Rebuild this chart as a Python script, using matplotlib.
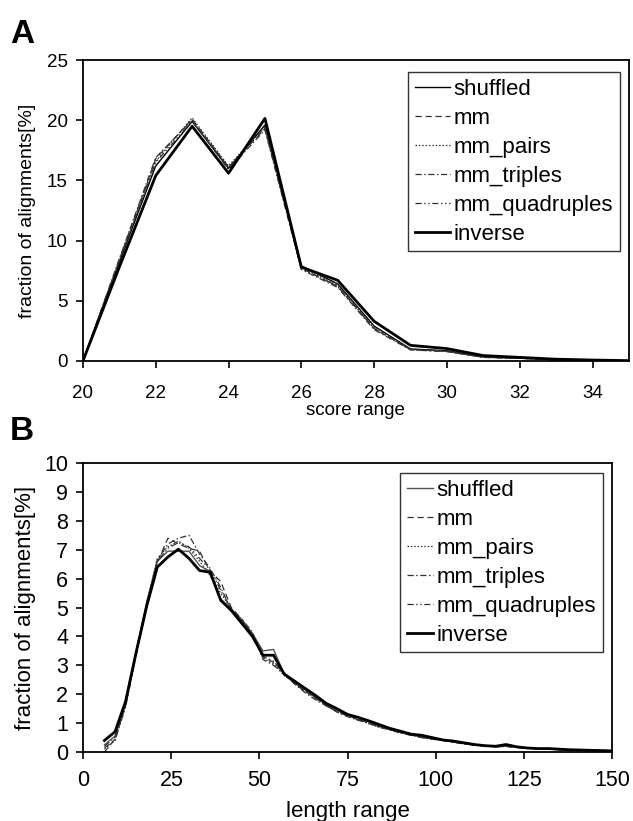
import numpy as np
import matplotlib
matplotlib.use('Agg')
import matplotlib.pyplot as plt

plt.rcParams['font.family'] = ['Liberation Sans', 'DejaVu Sans']

series_names = ['shuffled', 'mm', 'mm_pairs', 'mm_triples', 'mm_quadruples', 'inverse']

# Panel A: score range
score_x = [20, 21, 22, 23, 24, 25, 26, 27, 28, 29, 30, 31, 32, 33, 34, 35]
score_shuffled = [0, 8.2, 16.2, 19.9, 16.0, 19.6, 7.9, 6.4, 2.9, 1.0, 0.85, 0.35, 0.25, 0.10, 0.05, 0.02]
score_mm = [0, 8.4, 16.8, 20.1, 16.1, 19.3, 7.7, 6.2, 2.7, 0.95, 0.80, 0.30, 0.22, 0.10, 0.05, 0.02]
score_pairs = [0, 8.3, 16.6, 20.2, 16.2, 19.5, 7.8, 6.3, 2.8, 0.98, 0.82, 0.32, 0.24, 0.10, 0.05, 0.02]
score_triples = [0, 8.5, 16.9, 20.0, 15.9, 19.2, 7.6, 6.1, 2.6, 0.92, 0.78, 0.30, 0.22, 0.09, 0.04, 0.02]
score_quads = [0, 8.3, 16.5, 19.9, 16.1, 19.4, 7.7, 6.2, 2.7, 0.95, 0.80, 0.31, 0.23, 0.10, 0.05, 0.02]
score_inverse = [0, 7.8, 15.4, 19.5, 15.6, 20.15, 7.8, 6.7, 3.3, 1.3, 1.03, 0.45, 0.30, 0.15, 0.08, 0.03]

# Panel B: length range
length_x = [6, 9, 12, 15, 18, 21, 24, 27, 30, 33, 36, 39, 42, 45, 48, 51, 54, 57, 60, 63,
            66, 69, 72, 75, 78, 81, 84, 87, 90, 93, 96, 99, 102, 105, 108, 111, 114, 117,
            120, 123, 126, 129, 132, 135, 138, 141, 144, 147, 150]
len_shuffled = [0.25, 0.55, 1.80, 3.50, 5.20, 6.60, 6.95, 6.95, 6.95, 6.45, 6.25, 5.30, 4.95,
                4.55, 4.10, 3.50, 3.55, 2.70, 2.40, 2.15, 1.90, 1.62, 1.45, 1.32, 1.10, 1.05,
                0.90, 0.80, 0.70, 0.62, 0.52, 0.48, 0.40, 0.36, 0.30, 0.25, 0.22, 0.20, 0.22,
                0.17, 0.14, 0.12, 0.10, 0.09, 0.08, 0.07, 0.06, 0.05, 0.04]
len_mm = [0.00, 0.45, 1.60, 3.40, 5.10, 6.55, 7.40, 7.20, 7.05, 6.95, 6.25, 5.90, 5.00, 4.60,
          4.05, 3.30, 3.10, 2.75, 2.35, 2.10, 1.85, 1.60, 1.40, 1.25, 1.15, 1.00, 0.88, 0.78,
          0.68, 0.58, 0.52, 0.45, 0.42, 0.34, 0.30, 0.24, 0.21, 0.18, 0.20, 0.16, 0.13, 0.11,
          0.10, 0.09, 0.07, 0.06, 0.05, 0.05, 0.04]
len_pairs = [0.10, 0.40, 1.70, 3.45, 5.15, 6.70, 7.10, 7.30, 7.05, 6.60, 6.10, 5.50, 4.95,
             4.50, 4.05, 3.25, 3.05, 2.65, 2.40, 2.12, 1.88, 1.58, 1.42, 1.28, 1.12, 0.98,
             0.86, 0.78, 0.66, 0.60, 0.50, 0.46, 0.40, 0.35, 0.29, 0.25, 0.21, 0.19, 0.21,
             0.16, 0.13, 0.11, 0.10, 0.08, 0.07, 0.06, 0.05, 0.04, 0.04]
len_triples = [0.20, 0.50, 1.65, 3.40, 5.15, 6.65, 7.20, 7.40, 7.50, 6.85, 6.35, 5.70, 4.90,
               4.60, 4.15, 3.20, 3.00, 2.70, 2.35, 2.05, 1.80, 1.60, 1.38, 1.22, 1.10, 1.00,
               0.86, 0.76, 0.66, 0.58, 0.50, 0.44, 0.40, 0.34, 0.28, 0.24, 0.21, 0.18, 0.19,
               0.16, 0.13, 0.11, 0.10, 0.08, 0.07, 0.06, 0.05, 0.04, 0.04]
len_quads = [0.15, 0.40, 1.55, 3.35, 5.05, 6.60, 7.05, 7.25, 7.10, 6.70, 6.30, 5.60, 4.95,
             4.55, 4.10, 3.30, 3.15, 2.68, 2.38, 2.10, 1.86, 1.62, 1.40, 1.26, 1.12, 1.00,
             0.87, 0.78, 0.67, 0.59, 0.51, 0.45, 0.41, 0.35, 0.29, 0.24, 0.21, 0.18, 0.20,
             0.16, 0.13, 0.11, 0.10, 0.08, 0.07, 0.06, 0.05, 0.05, 0.04]
len_inverse = [0.40, 0.70, 1.75, 3.45, 5.05, 6.40, 6.75, 7.02, 6.70, 6.28, 6.22, 5.25, 4.90,
               4.45, 4.00, 3.35, 3.35, 2.70, 2.45, 2.20, 1.95, 1.68, 1.50, 1.30, 1.20, 1.08,
               0.95, 0.82, 0.72, 0.62, 0.58, 0.50, 0.42, 0.38, 0.32, 0.26, 0.22, 0.20, 0.26,
               0.18, 0.14, 0.12, 0.12, 0.10, 0.08, 0.07, 0.06, 0.05, 0.04]

score_series = [score_shuffled, score_mm, score_pairs, score_triples, score_quads, score_inverse]
len_series = [len_shuffled, len_mm, len_pairs, len_triples, len_quads, len_inverse]


def line_styles(shuffled_color):
    return [
        dict(color=shuffled_color, lw=1.0, ls='-'),
        dict(color='#333333', lw=0.9, ls=(0, (5, 3))),
        dict(color='#333333', lw=0.9, ls=(0, (1.2, 1.5))),
        dict(color='#333333', lw=0.9, ls=(0, (5, 2, 1.2, 2))),
        dict(color='#333333', lw=0.9, ls=(0, (5, 2, 1.2, 2, 1.2, 2))),
        dict(color='black', lw=2.0, ls='-'),
    ]


def style_axes(ax, tick_size, xpad, ypad):
    for sp in ax.spines.values():
        sp.set_linewidth(1.3)
    ax.tick_params(direction='out', length=5, width=1.2, labelsize=tick_size,
                   top=False, right=False)
    ax.tick_params(axis='x', pad=xpad)
    ax.tick_params(axis='y', pad=ypad)


def add_legend(ax, anchor, hlen):
    leg = ax.legend(loc='upper right', bbox_to_anchor=anchor, borderaxespad=0,
                    fontsize=16, frameon=True, fancybox=False, handlelength=hlen,
                    handletextpad=0.15, labelspacing=0.36, borderpad=0.3)
    leg.get_frame().set_edgecolor('black')
    leg.get_frame().set_linewidth(1.0)
    return leg


fig = plt.figure(figsize=(6.33, 8.21), dpi=100)

# ---- Panel A ----
axA = fig.add_axes([0.131, 0.5603, 0.8626, 0.3666])
for name, vals, st in zip(series_names, score_series, line_styles('black')):
    axA.plot(score_x, vals, label=name, **st)
axA.set_xlim(20, 35)
axA.set_ylim(0, 25)
axA.set_xticks(range(20, 35, 2))
axA.set_yticks(range(0, 26, 5))
style_axes(axA, 13.5, 12, 6)
axA.set_xlabel('score range', fontsize=13.5, labelpad=0)
axA.set_ylabel('fraction of alignments[%]', fontsize=14, labelpad=8)
add_legend(axA, (0.9835, 0.960), 1.6)

# ---- Panel B ----
axB = fig.add_axes([0.1316, 0.084, 0.835, 0.352])
for name, vals, st in zip(series_names, len_series, line_styles('#555555')):
    axB.plot(length_x, vals, label=name, **st)
axB.set_xlim(0, 150)
axB.set_ylim(0, 10)
axB.set_xticks(range(0, 151, 25))
axB.set_yticks(range(0, 11, 1))
style_axes(axB, 15.5, 8, 6)
axB.set_xlabel('length range', fontsize=16, labelpad=7)
axB.set_ylabel('fraction of alignments[%]', fontsize=16, labelpad=6)
add_legend(axB, (0.983, 0.966), 1.2)

fig.text(10 / 633, 1 - 43 / 821, 'A', fontsize=24, fontweight='bold', va='baseline')
fig.text(10 / 633, 1 - 440 / 821, 'B', fontsize=24, fontweight='bold', va='baseline')

fig.savefig('out.png', dpi=100)
